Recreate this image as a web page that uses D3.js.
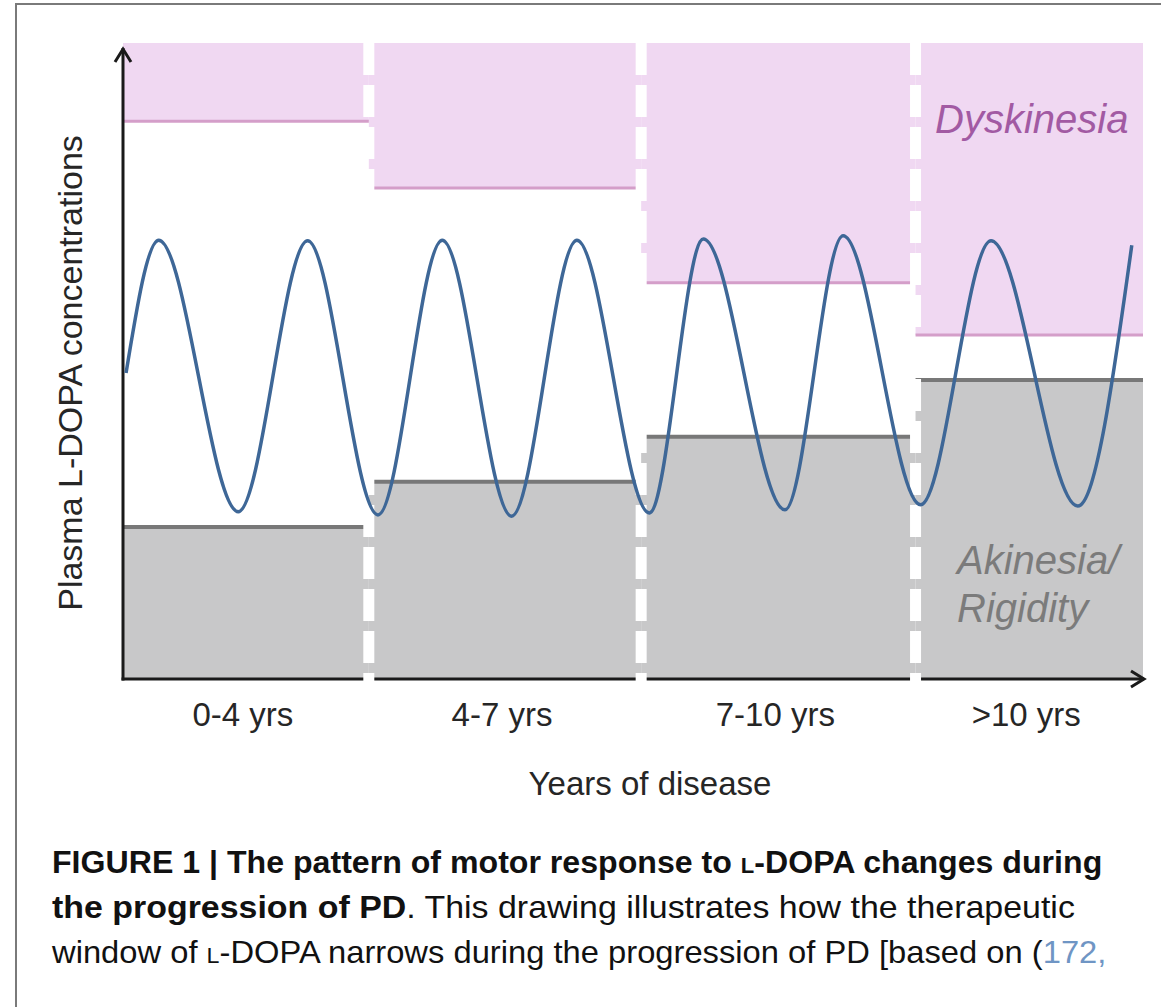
<!DOCTYPE html>
<html>
<head>
<meta charset="utf-8">
<script src="https://cdn.jsdelivr.net/npm/d3@7"></script>
<style>
  body { margin: 0; background: #fff; }
  svg { display: block; font-family: "Liberation Sans", Arial, Helvetica, sans-serif; }
</style>
</head>
<body>
<svg id="fig" width="1161" height="1007"></svg>
<script>
// stages of disease and the therapeutic window in each
const stages = ["0-4 yrs", "4-7 yrs", "7-10 yrs", ">10 yrs"];
const stageBounds = [0, 24.1, 50.8, 77.7, 100];      // arbitrary time units
const dyskinesiaLevel = [87.7, 77.2, 62.3, 54.1];    // lower edge of dyskinesia zone
const akinesiaLevel = [23.9, 31.0, 38.1, 47.0];      // upper edge of akinesia zone

// plasma L-DOPA curve, read at its turning points
const waveTime  = [0.3, 3.5, 11.3, 18.1, 25.0, 31.3, 38.1, 44.5, 51.6, 56.9, 64.9, 70.6, 78.2, 85.1, 93.6, 98.9];
const waveLevel = [48.1, 69.0, 26.3, 68.9, 25.8, 69.0, 25.6, 69.0, 26.1, 69.2, 26.6, 69.7, 27.4, 68.9, 27.2, 68.2];

const svg = d3.select("#fig");

const x = d3.scaleLinear().domain([0, 100]).range([123, 1143]);
const y = d3.scaleLinear().domain([0, 100]).range([679, 43]);

const panels = stages.map((s, i) => ({
  label: s,
  x0: stageBounds[i],
  x1: stageBounds[i + 1],
  dys: dyskinesiaLevel[i],
  aki: akinesiaLevel[i]
}));

// frame round the figure (only top and left edge are in view)
svg.append("rect")
  .attr("x", 16).attr("y", 4)
  .attr("width", 1200).attr("height", 1100)
  .attr("fill", "none")
  .attr("stroke", "#7a7a7a")
  .attr("stroke-width", 2);

// dyskinesia zone
svg.selectAll(".dys")
  .data(panels).enter().append("rect")
  .attr("class", "dys")
  .attr("x", d => x(d.x0))
  .attr("width", d => x(d.x1) - x(d.x0))
  .attr("y", y(100))
  .attr("height", d => y(d.dys) - y(100))
  .attr("fill", "#f0d8f2");

svg.selectAll(".dysline")
  .data(panels).enter().append("line")
  .attr("class", "dysline")
  .attr("x1", d => x(d.x0)).attr("x2", d => x(d.x1))
  .attr("y1", d => y(d.dys)).attr("y2", d => y(d.dys))
  .attr("stroke", "#d49ec9")
  .attr("stroke-width", 3);

// akinesia zone
svg.selectAll(".aki")
  .data(panels).enter().append("rect")
  .attr("class", "aki")
  .attr("x", d => x(d.x0))
  .attr("width", d => x(d.x1) - x(d.x0))
  .attr("y", d => y(d.aki))
  .attr("height", d => y(0) - y(d.aki))
  .attr("fill", "#c8c8c9");

svg.selectAll(".akiline")
  .data(panels).enter().append("line")
  .attr("class", "akiline")
  .attr("x1", d => x(d.x0)).attr("x2", d => x(d.x1))
  .attr("y1", d => y(d.aki)).attr("y2", d => y(d.aki))
  .attr("stroke", "#787878")
  .attr("stroke-width", 4);

// axes with open arrow heads
const axisG = svg.append("g")
  .attr("fill", "none")
  .attr("stroke", "#1a1a1a")
  .attr("stroke-width", 3)
  .attr("stroke-linejoin", "miter");

axisG.append("path")
  .attr("d", `M${x(0)},${y(0) + 1.5}V${y(100) + 5}`);
axisG.append("path")
  .attr("d", `M${x(0) - 8},${y(100) + 19}L${x(0)},${y(100) + 6}L${x(0) + 8},${y(100) + 19}`);
axisG.append("path")
  .attr("d", `M${x(0) - 1.5},${y(0)}H${x(100) + 1}`);
axisG.append("path")
  .attr("d", `M${x(100) - 12},${y(0) - 8}L${x(100) + 1},${y(0)}L${x(100) - 12},${y(0) + 8}`);

// white dashed stage dividers
svg.selectAll(".divider")
  .data(stageBounds.slice(1, -1)).enter().append("line")
  .attr("class", "divider")
  .attr("x1", d => x(d)).attr("x2", d => x(d))
  .attr("y1", y(100)).attr("y2", y(0) + 5)
  .attr("stroke", "#fff")
  .attr("stroke-width", 11)
  .attr("stroke-dasharray", "32 10");

// plasma concentration curve
const line = d3.line()
  .x(d => x(d[0]))
  .y(d => y(d[1]))
  .curve(d3.curveMonotoneX);

svg.append("path")
  .datum(waveTime.map((t, i) => [t, waveLevel[i]]))
  .attr("d", line)
  .attr("fill", "none")
  .attr("stroke", "#3e6797")
  .attr("stroke-width", 3.5);

// zone labels
svg.append("text")
  .attr("x", 935).attr("y", 133)
  .attr("font-size", 40)
  .attr("font-style", "italic")
  .attr("fill", "#a25aa3")
  .text("Dyskinesia");

svg.append("text")
  .attr("x", 957).attr("y", 574)
  .attr("font-size", 40)
  .attr("font-style", "italic")
  .attr("fill", "#7b7b7b")
  .text("Akinesia/");

svg.append("text")
  .attr("x", 957).attr("y", 622)
  .attr("font-size", 40)
  .attr("font-style", "italic")
  .attr("fill", "#7b7b7b")
  .text("Rigidity");

// stage tick labels
svg.selectAll(".tick")
  .data(panels).enter().append("text")
  .attr("class", "tick")
  .attr("x", d => x((d.x0 + d.x1) / 2) - 3)
  .attr("y", 726)
  .attr("text-anchor", "middle")
  .attr("font-size", 33)
  .attr("fill", "#262626")
  .text(d => d.label);

svg.append("text")
  .attr("x", 650).attr("y", 795)
  .attr("text-anchor", "middle")
  .attr("font-size", 33)
  .attr("fill", "#262626")
  .text("Years of disease");

svg.append("text")
  .attr("transform", "translate(82,373) rotate(-90)")
  .attr("text-anchor", "middle")
  .attr("font-size", 34)
  .attr("fill", "#262626")
  .text("Plasma L-DOPA concentrations");

// caption
const captionLines = [
  { y: 873, width: 1051, parts: [
    { t: "FIGURE 1 | The pattern of motor response to ", b: true },
    { t: "l", b: true, sc: true },
    { t: "-DOPA changes during", b: true }
  ]},
  { y: 918, width: 1023, parts: [
    { t: "the progression of PD", b: true },
    { t: ". This drawing illustrates how the therapeutic" }
  ]},
  { y: 963, width: 1054, parts: [
    { t: "window of " },
    { t: "l", sc: true },
    { t: "-DOPA narrows during the progression of PD [based on (" },
    { t: "172,", c: "#6f95c4" }
  ]}
];

captionLines.forEach(ln => {
  const txt = svg.append("text")
    .attr("font-size", 32)
    .attr("fill", "#111");
  ln.parts.forEach(p => {
    txt.append("tspan")
      .attr("font-weight", p.b ? "bold" : "normal")
      .attr("fill", p.c || null)
      .style("font-variant", p.sc ? "small-caps" : null)
      .text(p.t);
  });
  const w = txt.node().getComputedTextLength();
  txt.attr("transform", `translate(52,${ln.y}) scale(${ln.width / w},1)`);
});
</script>
</body>
</html>
